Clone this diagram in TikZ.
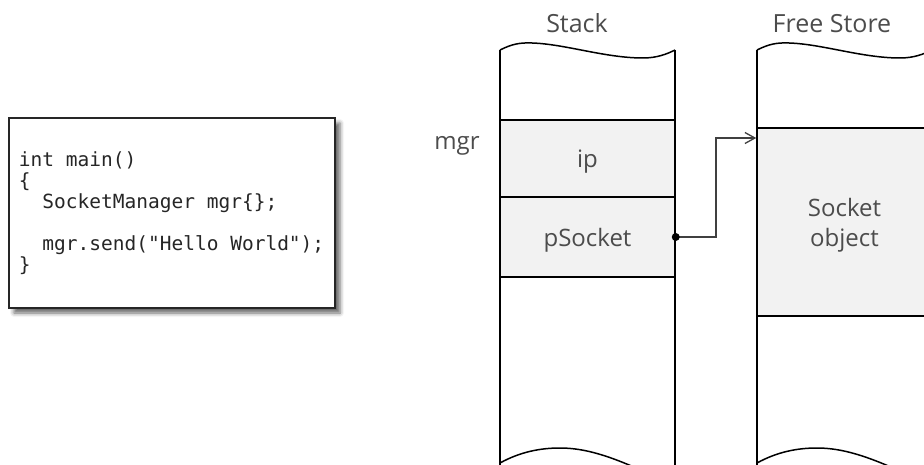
\documentclass[tikz,border=0pt]{standalone}
\usepackage{fontspec}
\newfontfamily\labelfont{Open Sans}
\newfontfamily\codefont{DejaVu Sans Mono}[WordSpace={1,0,0}]
\newcommand\codesp{\hphantom{x}}
\usetikzlibrary{arrows.meta,shadows.blur}
\begin{document}
\begin{tikzpicture}[x=1pt,y=-1pt,
  edge/.style={line width=1.5pt, black},
  cell/.style={draw=black, line width=1.5pt, fill=black!5, minimum width=175pt, inner sep=0pt,
    font=\labelfont\fontsize{24}{30}\selectfont, text=black!70, text height=19pt, text depth=0pt},
  lbl/.style={font=\labelfont\fontsize{24}{30}\selectfont, text=black!70, inner sep=0pt},
  title/.style={font=\labelfont\fontsize{25}{30}\selectfont, text=black!70, inner sep=0pt, anchor=base},
  conn/.style={line width=1.3pt, black!75},
  codebox/.style={draw=black!85, line width=1.6pt, fill=white, minimum width=326pt, minimum height=190pt,
    inner sep=0pt, blur shadow={shadow xshift=5pt, shadow yshift=-5pt, shadow blur radius=4pt, shadow opacity=60}}]
\useasboundingbox (0,0) rectangle (924,465);
\begin{scope}
  \clip (0,0) rectangle (924,465);
  % cells
  \node[cell, minimum height=77pt] (ip) at (587.5,158.5) {ip};
  \node[cell, minimum height=80pt] (pSocket) at (587.5,237) {pSocket};
  \node[cell, minimum height=188pt, align=center, text height=, text depth=] (socket) at (844.5,222) {\rule{0pt}{24pt}Socket\\object};
  % column outlines
  \foreach \dx in {0,257}{
    \begin{scope}[xshift=\dx pt]
      \draw[edge] (500,50) .. controls (512,44) and (520,42.5) .. (532,43)
        .. controls (565,44) and (605,58) .. (643,58)
        .. controls (657,58) and (667,54) .. (675,50);
      \draw[edge] (500,50) -- (500,470);
      \draw[edge] (675,50) -- (675,470);
      \draw[edge] (500,463) .. controls (520,452) and (540,448) .. (560,448)
        .. controls (585,448) and (610,456) .. (645,472);
    \end{scope}
  }
\end{scope}
% titles and labels
\node[title] (stacktitle) at (577,33) {Stack};
\node[title] (freetitle) at (832,33) {Free Store};
\node[lbl, anchor=base] (mgrlabel) at (457,150) {mgr};
% connector
\coordinate (bend) at (716,138);
\draw[conn, -{Straight Barb[length=10pt,width=11pt]}] (pSocket.east) -| (bend) -- (bend -| socket.west);
\fill[black] (pSocket.east) circle (4);
% code box
\node[codebox, align=left, text width=306pt, font=\codefont\fontsize{19.5}{21}\selectfont, text=black!85] (code) at (172,213)
  {int\codesp main()\\ \{\\ \codesp\codesp SocketManager\codesp mgr\{\};\\[21pt] \codesp\codesp mgr.send("Hello\codesp World");\\ \}};
\end{tikzpicture}
\end{document}
